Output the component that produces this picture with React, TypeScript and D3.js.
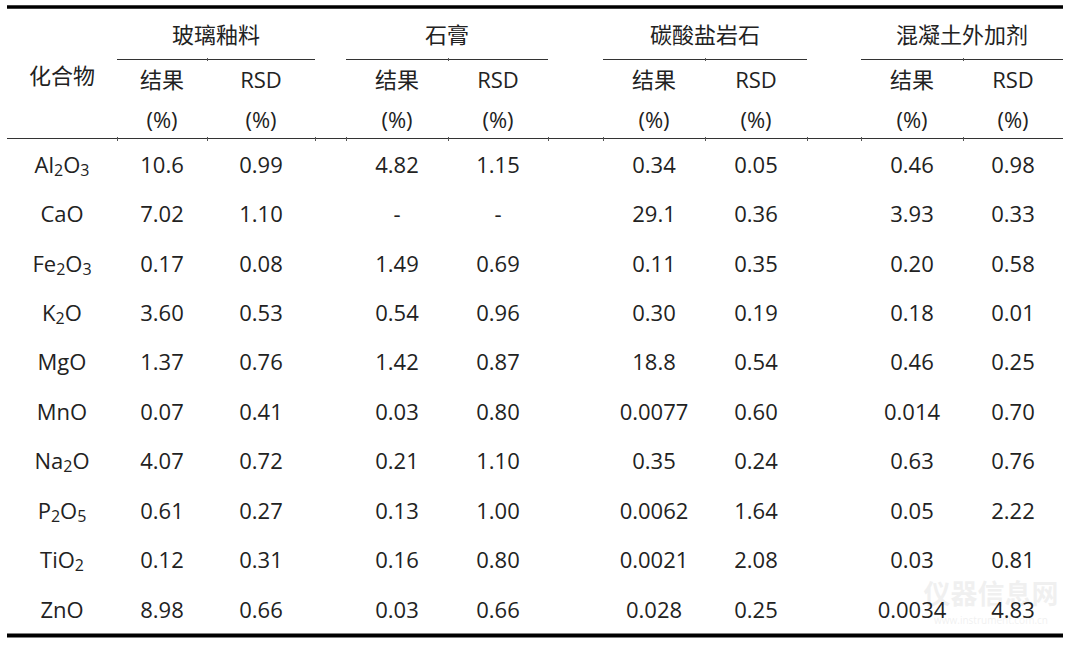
import React from "react";
import * as d3 from "d3";

const groups = ["玻璃釉料", "石膏", "碳酸盐岩石", "混凝土外加剂"];
const compounds = [
  [["Al", ""], ["2", "sub"], ["O", ""], ["3", "sub"]],
  [["CaO", ""]],
  [["Fe", ""], ["2", "sub"], ["O", ""], ["3", "sub"]],
  [["K", ""], ["2", "sub"], ["O", ""]],
  [["MgO", ""]],
  [["MnO", ""]],
  [["Na", ""], ["2", "sub"], ["O", ""]],
  [["P", ""], ["2", "sub"], ["O", ""], ["5", "sub"]],
  [["Ti", ""], ["O", ""], ["2", "sub"]],
  [["ZnO", ""]],
];
const compoundKeys = ["Al2O3", "CaO", "Fe2O3", "K2O", "MgO", "MnO", "Na2O", "P2O5", "TiO2", "ZnO"];

const glassResult = ["10.6", "7.02", "0.17", "3.60", "1.37", "0.07", "4.07", "0.61", "0.12", "8.98"];
const glassRSD = ["0.99", "1.10", "0.08", "0.53", "0.76", "0.41", "0.72", "0.27", "0.31", "0.66"];
const gypsumResult = ["4.82", "-", "1.49", "0.54", "1.42", "0.03", "0.21", "0.13", "0.16", "0.03"];
const gypsumRSD = ["1.15", "-", "0.69", "0.96", "0.87", "0.80", "1.10", "1.00", "0.80", "0.66"];
const carbResult = ["0.34", "29.1", "0.11", "0.30", "18.8", "0.0077", "0.35", "0.0062", "0.0021", "0.028"];
const carbRSD = ["0.05", "0.36", "0.35", "0.19", "0.54", "0.60", "0.24", "1.64", "2.08", "0.25"];
const admixResult = ["0.46", "3.93", "0.20", "0.18", "0.46", "0.014", "0.63", "0.05", "0.03", "0.0034"];
const admixRSD = ["0.98", "0.33", "0.58", "0.01", "0.25", "0.70", "0.76", "2.22", "0.81", "4.83"];

const columns = [glassResult, glassRSD, gypsumResult, gypsumRSD, carbResult, carbRSD, admixResult, admixRSD];
const subHeaders = ["结果", "RSD"];
const unitLabel = "(%)";
const firstHeader = "化合物";
const watermark = "仪器信息网";
const watermarkUrl = "www.instrument.com.cn";

// column boundaries (layout)
const bounds = [7, 117, 207, 315, 346, 448, 548, 603, 705, 807, 861, 963, 1063];
const colEdges: [number, number][] = [
  [bounds[1], bounds[2]], [bounds[2], bounds[3]],
  [bounds[4], bounds[5]], [bounds[5], bounds[6]],
  [bounds[7], bounds[8]], [bounds[8], bounds[9]],
  [bounds[10], bounds[11]], [bounds[11], bounds[12]],
];
const groupEdges: [number, number][] = [
  [bounds[1], bounds[3]], [bounds[4], bounds[6]], [bounds[7], bounds[9]], [bounds[10], bounds[12]],
];

const FONT = "'Open Sans', 'Noto Sans CJK SC', sans-serif";
const COLOR = "#222";

export default function App() {
  const y = d3.scalePoint<string>().domain(compoundKeys).range([165, 610]);
  const left = bounds[0];
  const right = bounds[bounds.length - 1];
  const fs = 22;
  const base = 7.7; // baseline offset from center
  const mid = (e: [number, number]) => (e[0] + e[1]) / 2;

  return (
    <svg width={1080} height={648} style={{ position: "absolute", left: 0, top: 0, background: "#fff" }}
      fontFamily={FONT} fill={COLOR}>
      <rect width={1080} height={648} fill="#fff" />
      {/* watermark */}
      <g opacity={0.1} fill="#777">
        <text x={991} y={604} fontSize={27} textAnchor="middle" fontWeight={700} fontFamily="'Noto Sans CJK SC', sans-serif">{watermark}</text>
        <text x={991} y={624} fontSize={10} textAnchor="middle">{watermarkUrl}</text>
      </g>
      {/* rules */}
      <line x1={left} x2={right} y1={7} y2={7} stroke="#000" strokeWidth={3.5} />
      <line x1={left} x2={right} y1={635.5} y2={635.5} stroke="#000" strokeWidth={4} />
      {groupEdges.map((e, i) => (
        <line key={"g" + i} x1={e[0]} x2={e[1]} y1={59.5} y2={59.5} stroke="#333" strokeWidth={1} />
      ))}
      <line x1={left} x2={right} y1={138.5} y2={138.5} stroke="#333" strokeWidth={1} />
      {bounds.slice(1, -1).map((b, i) => (
        <line key={"t" + i} x1={b + 0.5} x2={b + 0.5} y1={137} y2={141} stroke="#555" strokeWidth={1} />
      ))}
      {colEdges.filter((_, i) => i % 2 === 1).map((e, i) => (
        <line key={"tt" + i} x1={e[0] + 0.5} x2={e[0] + 0.5} y1={58} y2={61} stroke="#555" strokeWidth={1} />
      ))}

      {/* headers */}
      <text x={(bounds[0] + bounds[1]) / 2} y={76 + base} fontSize={fs} textAnchor="middle">{firstHeader}</text>
      {groups.map((g, i) => (
        <text key={g} x={mid(groupEdges[i])} y={35 + base} fontSize={fs} textAnchor="middle">{g}</text>
      ))}
      {colEdges.map((e, i) => (
        <g key={"h" + i}>
          <text x={mid(e)} y={80 + base} fontSize={fs} textAnchor="middle">{subHeaders[i % 2]}</text>
          <text x={mid(e)} y={120 + base} fontSize={fs} textAnchor="middle">{unitLabel}</text>
        </g>
      ))}

      {/* compound names */}
      {compounds.map((parts, r) => (
        <text key={"c" + r} x={(bounds[0] + bounds[1]) / 2} y={(y(compoundKeys[r]) as number) + base} fontSize={fs} textAnchor="middle">
          {parts.map(([t, k], j) =>
            k === "sub" ? (
              <tspan key={j} fontSize={16} dy={3}>{t}</tspan>
            ) : (
              <tspan key={j} dy={j > 0 && parts[j - 1][1] === "sub" ? -3 : 0}>{t}</tspan>
            )
          )}
        </text>
      ))}

      {/* values */}
      {columns.map((col, c) =>
        col.map((v, r) => (
          <text key={c + "-" + r} x={mid(colEdges[c])} y={(y(compoundKeys[r]) as number) + base} fontSize={fs} textAnchor="middle">{v}</text>
        ))
      )}
    </svg>
  );
}
